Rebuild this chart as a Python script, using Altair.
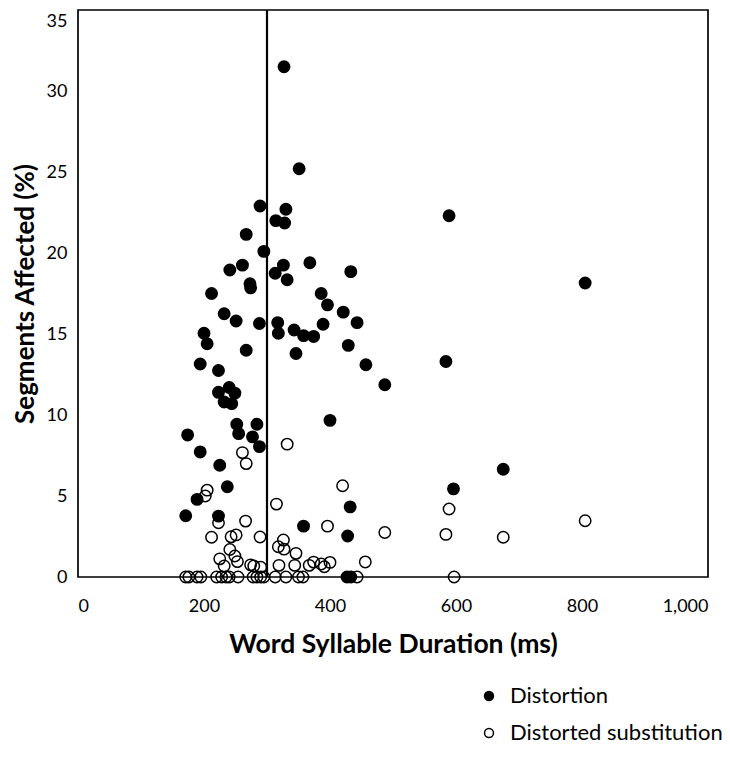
import altair as alt
import pandas as pd

# Distortion (filled circles)
dist_x = [327, 351, 589, 289, 330, 314, 328, 267, 295, 261, 241, 326, 368, 313, 332,
          273, 274, 212, 433, 386, 396, 421, 232, 251, 288, 317, 318, 343, 358, 374,
          389, 443, 429, 346, 200, 205, 267, 194, 223, 457, 487, 584, 805, 223, 240,
          249, 232, 244, 252, 284, 255, 277, 288, 174, 194, 225, 237, 189, 171, 223,
          400, 358, 432, 428, 675, 596, 427, 433]
dist_y = [31.5, 25.2, 22.3, 22.9, 22.7, 22.0, 21.85, 21.15, 20.1, 19.25, 18.95, 19.25, 19.4, 18.75, 18.35,
          18.1, 17.85, 17.5, 18.85, 17.5, 16.8, 16.35, 16.25, 15.8, 15.65, 15.7, 15.05, 15.25, 14.9, 14.85,
          15.6, 15.7, 14.3, 13.8, 15.05, 14.4, 14.0, 13.15, 12.75, 13.1, 11.87, 13.3, 18.15, 11.4, 11.7,
          11.35, 10.8, 10.7, 9.43, 9.43, 8.85, 8.65, 8.05, 8.77, 7.72, 6.9, 5.57, 4.79, 3.78, 3.76,
          9.67, 3.14, 4.33, 2.53, 6.65, 5.44, 0, 0]

# Distorted substitution (open circles)
sub_x = [332, 261, 267, 205, 202, 315, 420, 223, 266, 396, 212, 243, 251, 289, 326,
         241, 318, 327, 346, 225, 249, 253, 232, 274, 279, 290, 319, 344, 367, 374,
         386, 391, 400, 456, 589, 487, 584, 675, 805,
         171, 176, 189, 195, 220, 228, 235, 240, 254, 278, 284, 290, 295, 313, 330,
         350, 357, 443, 597]
sub_y = [8.2, 7.68, 7.0, 5.36, 5.0, 4.5, 5.63, 3.35, 3.45, 3.14, 2.45, 2.48, 2.6, 2.47, 2.28,
         1.7, 1.87, 1.72, 1.46, 1.12, 1.3, 0.95, 0.68, 0.75, 0.68, 0.6, 0.72, 0.72, 0.72, 0.92,
         0.8, 0.63, 0.9, 0.93, 4.2, 2.75, 2.63, 2.45, 3.47,
         0, 0, 0, 0, 0, 0, 0, 0, 0, 0, 0, 0, 0, 0, 0,
         0, 0, 0, 0]

series_names = ["Distortion", "Distorted substitution"]
x_ticks = [0, 200, 400, 600, 800, 1000]
y_ticks = [0, 5, 10, 15, 20, 25, 30, 35]
threshold = [300]

df = pd.DataFrame({
    "dur": dist_x + sub_x,
    "pct": dist_y + sub_y,
    "series": [series_names[0]] * len(dist_x) + [series_names[1]] * len(sub_x),
})

FONT = "Lato"

x_enc = alt.X("dur:Q", title="Word Syllable Duration (ms)",
              scale=alt.Scale(domain=[0, 1000], nice=False, zero=True),
              axis=alt.Axis(values=x_ticks, format=",.0f", grid=False, ticks=False, domain=False,
                            labelPadding=20, labelFontSize=18, labelColor="black",
                            titleFontSize=26.5, titleFontWeight="bold", titlePadding=16,
                            titleColor="black", labelFont=FONT, titleFont=FONT))
y_enc = alt.Y("pct:Q", title="Segments Affected (%)",
              scale=alt.Scale(domain=[0, 35], nice=False),
              axis=alt.Axis(values=y_ticks, format="d", grid=False, ticks=False, domain=False,
                            labelPadding=11, labelFontSize=18, labelColor="black",
                            labelOffset={"condition": {"test": "datum.value == 35", "value": 11}, "value": 0},
                            titleFontSize=26, titleFontWeight="bold", titlePadding=8,
                            titleColor="black", labelFont=FONT, titleFont=FONT))

points = alt.Chart(df).mark_circle(size=130, stroke="black", strokeWidth=1.5, opacity=1).encode(
    x=x_enc,
    y=y_enc,
    fill=alt.Fill("series:N",
                  scale=alt.Scale(domain=series_names, range=["black", "transparent"]),
                  sort=series_names,
                  legend=alt.Legend(title=None, orient="none", legendX=400, legendY=675,
                                    symbolType="circle", symbolSize=80,
                                    symbolStrokeColor="black", symbolStrokeWidth=1.5,
                                    symbolOpacity=1, labelLimit=0,
                                    labelFontSize=22, labelFont=FONT, labelColor="black",
                                    labelOffset=10, rowPadding=15, padding=0)),
)

rule = alt.Chart(pd.DataFrame({"x": threshold})).mark_rule(color="black", strokeWidth=2.2).encode(
    x=alt.X("x:Q", scale=alt.Scale(domain=[0, 1000]))
)

chart = alt.layer(rule, points).properties(
    width=630, height=567,
    autosize=alt.AutoSizeParams(type="none"),
    padding={"left": 70, "top": 2, "right": 14, "bottom": 171},
).configure(
    background="white",
    view=alt.ViewConfig(stroke="black", strokeWidth=1.7),
)

chart.save("out.html", embed_options={"renderer": "svg", "actions": False})
